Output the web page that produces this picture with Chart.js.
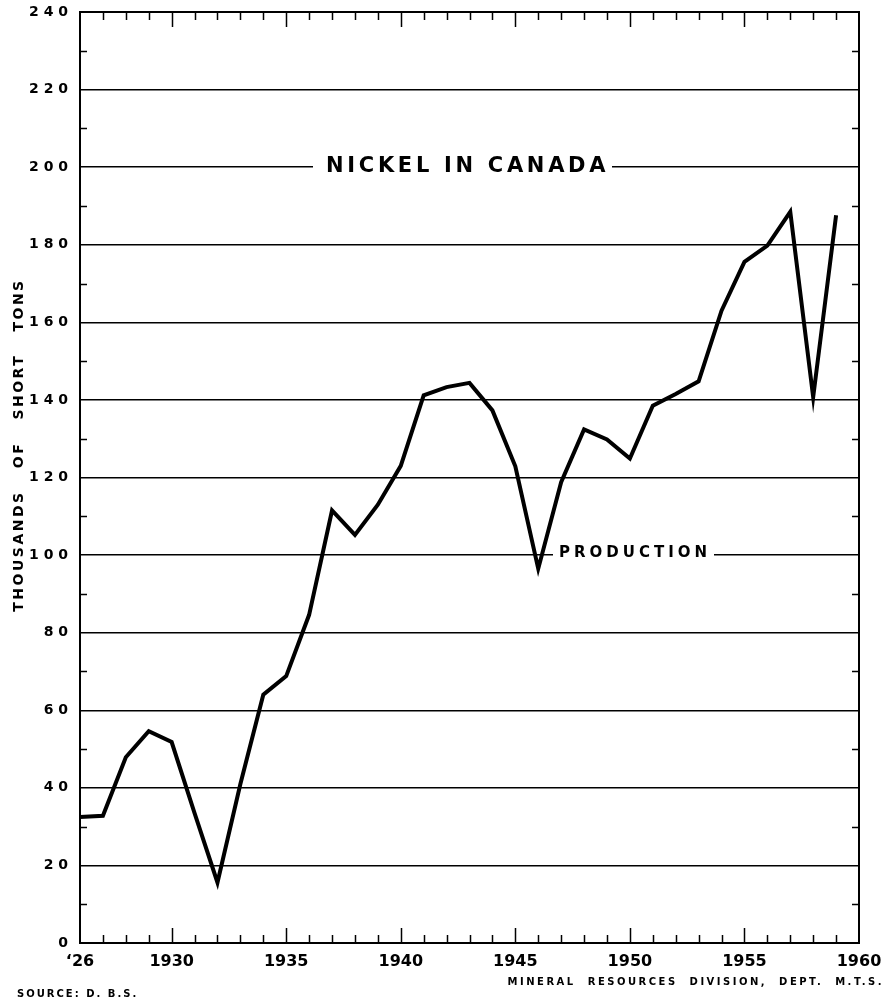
<!DOCTYPE html>
<html>
<head>
<meta charset="utf-8">
<script src="https://cdn.jsdelivr.net/npm/chart.js@4.4.0/dist/chart.umd.min.js"></script>
<style>
  html, body { margin: 0; padding: 0; background: #fff; }
</style>
</head>
<body>
<canvas id="myChart" width="887" height="1000"></canvas>
<script>
// nickel production in Canada, thousands of short tons
const years = [1926, 1927, 1928, 1929, 1930, 1931, 1932, 1933, 1934, 1935, 1936, 1937,
  1938, 1939, 1940, 1941, 1942, 1943, 1944, 1945, 1946, 1947, 1948, 1949, 1950, 1951,
  1952, 1953, 1954, 1955, 1956, 1957, 1958, 1959];
const production = [32.5, 32.8, 47.9, 54.6, 51.8, 33.5, 15.6, 41, 64, 68.8, 84.6, 111.5,
  105.2, 113, 123, 141.2, 143.3, 144.4, 137.3, 122.9, 96.5, 118.8, 132.4, 129.8, 124.9, 138.5,
  141.5, 144.8, 163, 175.6, 179.8, 188.5, 140.7, 187.6];

const xTickYears = [1926, 1930, 1935, 1940, 1945, 1950, 1955, 1960];
const xTickText = ["\u201826", "1930", "1935", "1940", "1945", "1950", "1955", "1960"];
const yTickValues = [0, 20, 40, 60, 80, 100, 120, 140, 160, 180, 200, 220, 240];

const FONT = '"DejaVu Sans"';

const deco = {
  id: "deco",
  beforeDatasetsDraw(chart) {
    const { ctx, scales: { y } } = chart;
    ctx.save();
    ctx.textBaseline = "middle";
    ctx.textAlign = "left";

    // title sitting on the 200 line
    let gy = y.getPixelForValue(200);
    ctx.fillStyle = "#fff";
    ctx.fillRect(313, gy - 4, 299, 8);
    ctx.fillStyle = "#000";
    ctx.font = "bold 21px " + FONT;
    ctx.letterSpacing = "3.7px";
    ctx.fillText("NICKEL IN CANADA", 326, gy - 1);

    // production label on the 100 line
    gy = y.getPixelForValue(100);
    ctx.fillStyle = "#fff";
    ctx.fillRect(553, gy - 4, 161, 8);
    ctx.fillStyle = "#000";
    ctx.font = "bold 15px " + FONT;
    ctx.letterSpacing = "4px";
    ctx.fillText("PRODUCTION", 559, gy - 2);

    ctx.restore();
  },
  afterDraw(chart) {
    const { ctx, chartArea: a, scales: { x, y } } = chart;
    ctx.save();
    ctx.strokeStyle = "#000";

    // frame
    ctx.lineWidth = 2;
    ctx.strokeRect(a.left, a.top, a.right - a.left, a.bottom - a.top);

    // year ticks, bottom and top
    ctx.lineWidth = 1.5;
    ctx.beginPath();
    for (let yr = 1927; yr < 1960; yr++) {
      const px = Math.round(x.getPixelForValue(yr)) + 0.5;
      const len = yr % 5 === 0 ? 15 : 8;
      ctx.moveTo(px, a.bottom);
      ctx.lineTo(px, a.bottom - len);
      ctx.moveTo(px, a.top);
      ctx.lineTo(px, a.top + len);
    }
    // minor ticks on the value axis
    for (let v = 10; v < 240; v += 20) {
      const py = Math.round(y.getPixelForValue(v)) + 0.5;
      ctx.moveTo(a.left, py);
      ctx.lineTo(a.left + 7, py);
      ctx.moveTo(a.right, py);
      ctx.lineTo(a.right - 7, py);
    }
    ctx.stroke();

    ctx.fillStyle = "#000";
    ctx.textBaseline = "alphabetic";

    // axis title
    ctx.save();
    ctx.translate(23, 445);
    ctx.rotate(-Math.PI / 2);
    ctx.textAlign = "center";
    ctx.font = "bold 14px " + FONT;
    ctx.letterSpacing = "2.5px";
    ctx.fillText("THOUSANDS   OF   SHORT   TONS", 0, 0);
    ctx.restore();

    // footers
    ctx.font = "bold 10px " + FONT;
    ctx.letterSpacing = "2px";
    ctx.textAlign = "left";
    ctx.fillText("SOURCE: D. B.S.", 17, 997);
    ctx.textAlign = "right";
    ctx.letterSpacing = "2.5px";
    ctx.fillText("MINERAL  RESOURCES  DIVISION,  DEPT.  M.T.S.", 884, 985);

    ctx.restore();
  }
};

const ctx = document.getElementById("myChart").getContext("2d");

const myChart = new Chart(ctx, {
  type: "line",
  data: {
    datasets: [
      {
        data: years.map((yr, i) => ({ x: yr, y: production[i] })),
        borderColor: "#000",
        borderWidth: 4,
        borderJoinStyle: "miter",
        pointRadius: 0,
        tension: 0,
        fill: false,
      },
    ],
  },
  options: {
    responsive: false,
    animation: false,
    layout: { padding: { top: 12, right: 28, left: 0, bottom: 0 } },
    plugins: {
      legend: { display: false },
      tooltip: { enabled: false },
    },
    scales: {
      x: {
        type: "linear",
        min: 1926,
        max: 1960,
        afterBuildTicks: (s) => { s.ticks = xTickYears.map((v) => ({ value: v })); },
        afterFit: (s) => { s.height = 57; s.paddingLeft = 0; s.paddingRight = 0; },
        grid: { display: false },
        border: { display: false },
        ticks: {
          autoSkip: false,
          maxRotation: 0,
          padding: 1,
          color: "#000",
          font: { family: FONT, size: 16, weight: "bold" },
          callback: (v) => xTickText[xTickYears.indexOf(v)],
        },
      },
      y: {
        min: 0,
        max: 240,
        afterBuildTicks: (s) => { s.ticks = yTickValues.map((v) => ({ value: v })); },
        afterFit: (s) => { s.width = 80; s.paddingTop = 0; s.paddingBottom = 0; },
        grid: { color: "#000", lineWidth: 1.4, drawTicks: false },
        border: { display: false },
        ticks: {
          padding: 12,
          color: "#000",
          font: { family: FONT, size: 14, weight: "bold" },
          callback: (v) => String(v).split("").join(" "),
        },
      },
    },
  },
  plugins: [deco],
});
</script>
</body>
</html>
